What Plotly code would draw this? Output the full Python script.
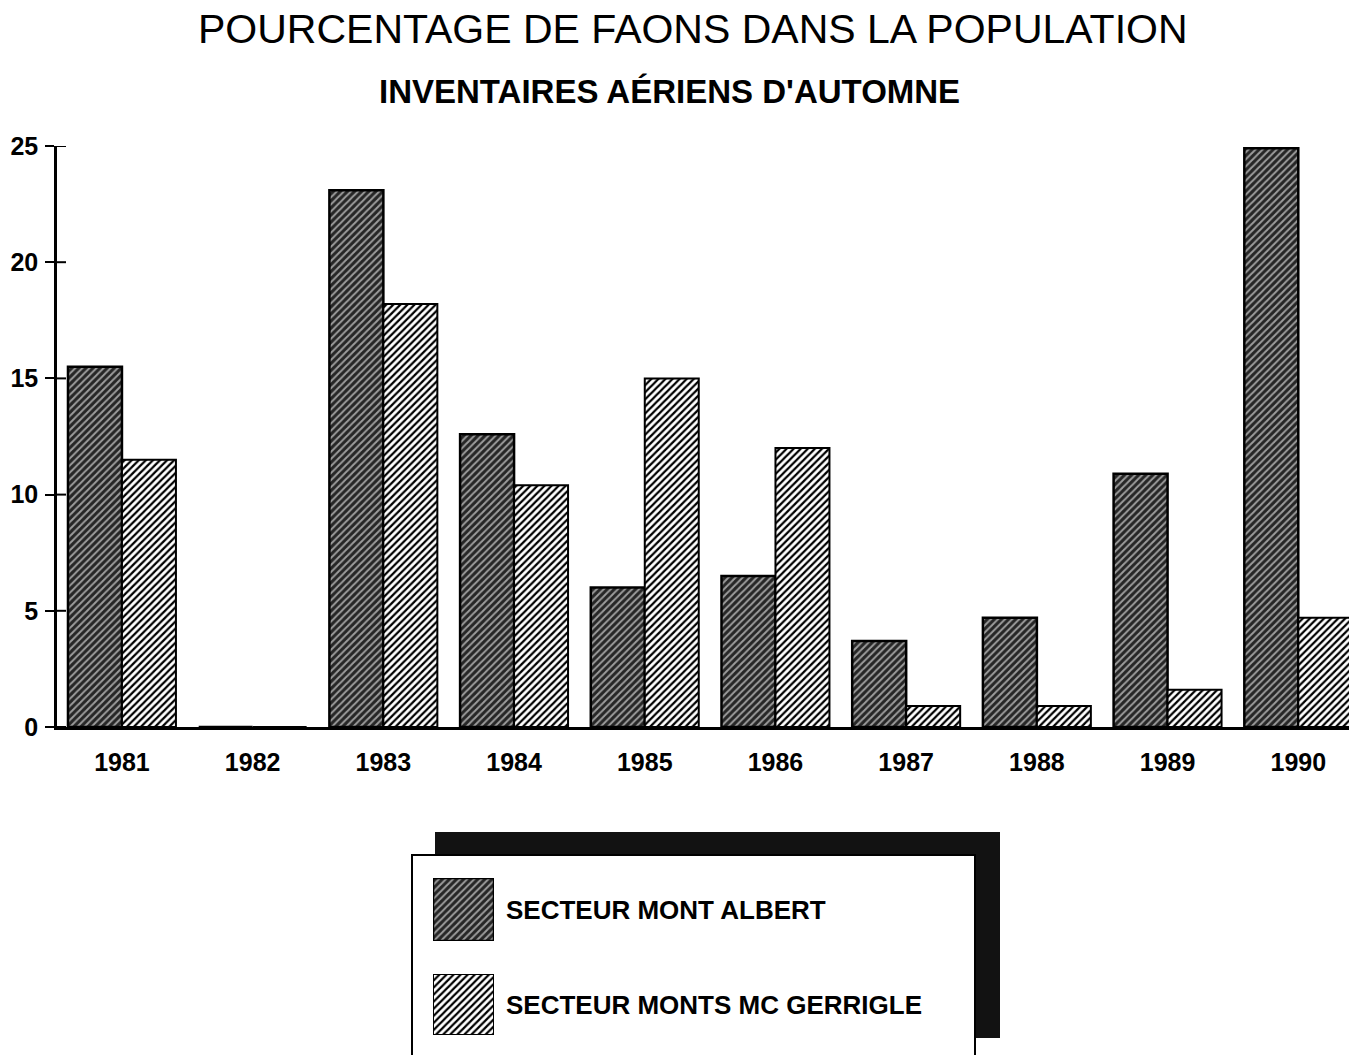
import plotly.graph_objects as go

# ---------------- data ----------------
years = ["1981", "1982", "1983", "1984", "1985", "1986", "1987", "1988", "1989", "1990"]
mont_albert = [15.5, 0, 23.1, 12.6, 6.0, 6.5, 3.7, 4.7, 10.9, 24.9]
mc_gerrigle = [11.5, 0, 18.2, 10.4, 15.0, 12.0, 0.9, 0.9, 1.6, 4.7]
series_names = ["SECTEUR MONT ALBERT", "SECTEUR MONTS MC GERRIGLE"]
y_ticks = [0, 5, 10, 15, 20, 25]

title_text = "POURCENTAGE DE FAONS DANS LA POPULATION"
subtitle_text = "INVENTAIRES AÉRIENS D'AUTOMNE"

# ---------------- layout helpers ----------------
W, H = 1349, 1055
ML, MR, MT, MB = 57, 0, 146, 0
PW, PH = W - ML - MR, H - MT - MB


def px(x):
    return (x - ML) / PW


def py(y):
    return (H - MB - y) / PH


FONT = "Liberation Sans, Arial, Helvetica, sans-serif"

albert_style = dict(
    color="#262626",
    line=dict(color="black", width=2.5),
    pattern=dict(shape="/", bgcolor="#262626", fgcolor="#9c9c9c", size=5, solidity=0.4, fillmode="replace"),
)
gerrigle_style = dict(
    color="white",
    line=dict(color="black", width=2),
    pattern=dict(shape="/", bgcolor="white", fgcolor="black", size=5, solidity=0.45, fillmode="replace"),
)

fig = go.Figure()
fig.add_trace(go.Bar(x=years, y=mont_albert, name=series_names[0], marker=albert_style,
                     showlegend=False, xaxis="x", yaxis="y"))
fig.add_trace(go.Bar(x=years, y=mc_gerrigle, name=series_names[1], marker=gerrigle_style,
                     showlegend=False, xaxis="x", yaxis="y"))

# legend swatches: one tiny horizontal-bar subplot per series, category label = legend text
fig.add_trace(go.Bar(x=[1], y=[series_names[0]], orientation="h", width=1, marker=albert_style,
                     xaxis="x3", yaxis="y3", showlegend=False, hoverinfo="skip"))
fig.add_trace(go.Bar(x=[1], y=[series_names[1]], orientation="h", width=1, marker=gerrigle_style,
                     xaxis="x4", yaxis="y4", showlegend=False, hoverinfo="skip"))

shapes = [
    # legend shadow
    dict(type="rect", xref="paper", yref="paper", x0=px(435), x1=px(1000), y0=py(1038), y1=py(832),
         fillcolor="#121212", line=dict(width=0), layer="below"),
    # legend box
    dict(type="rect", xref="paper", yref="paper", x0=px(412), x1=px(975), y0=py(1075), y1=py(855),
         fillcolor="white", line=dict(color="black", width=2), layer="below"),
]
# inner half of the y tick marks (ticks cross the axis line)
for t in y_ticks:
    shapes.append(dict(type="line", xref="paper", yref="y", x0=0, x1=px(66), y0=t, y1=t,
                       line=dict(color="black", width=2), layer="above"))

annotations = [
    dict(text=title_text, x=px(693), y=py(29), xref="paper", yref="paper", showarrow=False,
         xanchor="center", yanchor="middle", font=dict(family=FONT, size=41, color="black")),
    dict(text="<b>" + subtitle_text + "</b>", x=px(669), y=py(92), xref="paper", yref="paper",
         showarrow=False, xanchor="center", yanchor="middle", font=dict(family=FONT, size=33, color="black")),
]

legend_label_font = dict(family=FONT, size=26, color="black", weight="bold")


def swatch_axes(top, bottom, n):
    xa = dict(domain=[px(433), px(494)], range=[0, 1], visible=False, fixedrange=True,
              automargin=False, anchor="y" + n)
    ya = dict(domain=[py(bottom), py(top)], type="category", range=[-0.5, 0.5],
              side="right", ticks="", showgrid=False, zeroline=False, showline=False,
              tickfont=legend_label_font, ticklabelstandoff=11, automargin=False, fixedrange=True,
              anchor="x" + n)
    return xa, ya


xa3, ya3 = swatch_axes(878, 941, "3")
xa4, ya4 = swatch_axes(974, 1035, "4")

n = len(years)
fig.update_layout(
    width=W, height=H,
    margin=dict(l=ML, r=MR, t=MT, b=MB, pad=0, autoexpand=False),
    paper_bgcolor="white", plot_bgcolor="rgba(0,0,0,0)",
    barmode="group", bargap=0.174, bargroupgap=0,
    font=dict(family=FONT, color="black"),
    shapes=shapes, annotations=annotations,
    xaxis=dict(
        domain=[0, 1], anchor="y", type="category",
        range=[-0.497, n - 1 + 0.388],
        showline=True, linecolor="black", linewidth=2.5, ticks="", showgrid=False, zeroline=False,
        tickfont=dict(family=FONT, size=25, color="black", weight="bold"),
        ticklabelstandoff=11, automargin=False,
    ),
    yaxis=dict(
        domain=[py(727), 1], anchor="x", range=[0, 25], tickvals=y_ticks,
        showline=True, linecolor="black", linewidth=2.5, showgrid=False, zeroline=False,
        ticks="outside", ticklen=9, tickwidth=2, tickcolor="black",
        tickfont=dict(family=FONT, size=25, color="black", weight="bold"),
        ticklabelstandoff=2, automargin=False,
    ),
    xaxis3=xa3, yaxis3=ya3, xaxis4=xa4, yaxis4=ya4,
)

fig.write_html("out.html", config={"displayModeBar": False},
               post_script="document.body.style.margin='0';document.body.style.overflow='hidden';")
